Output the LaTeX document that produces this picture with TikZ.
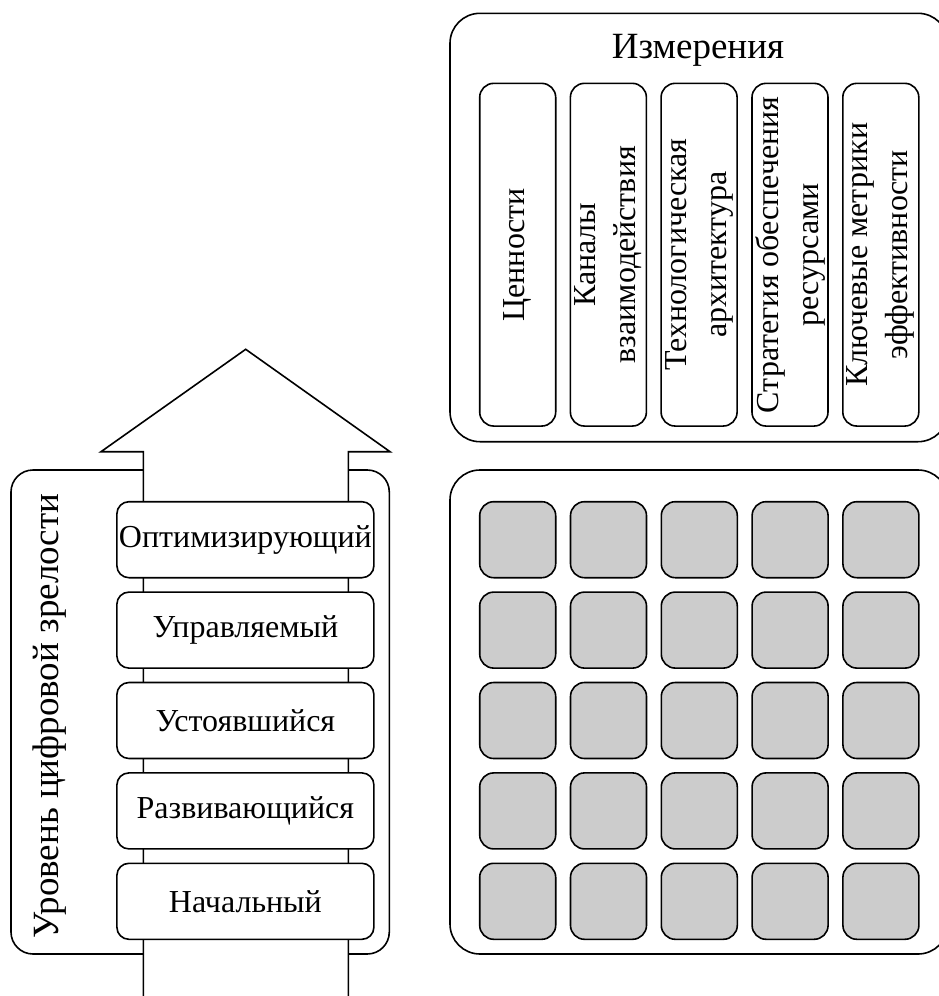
\documentclass[tikz,border=0pt]{standalone}
\usepackage{fontspec}
\setmainfont{Liberation Serif}
\begin{document}
\begin{tikzpicture}[x=1pt,y=-1pt,
  line width=1.6pt,
  container/.style={draw, rounded corners=30pt, fill=white},
  level/.style={draw, fill=white, rounded corners=12pt, minimum width=257pt, minimum height=76pt, inner sep=0pt, font=\fontsize{32}{38}\selectfont},
  dimbox/.style={draw, fill=white, rounded corners=14pt, rotate=90, minimum width=342.7pt, minimum height=76pt, inner sep=0pt, align=center, font=\fontsize{32}{40}\selectfont},
  cell/.style={draw, fill=black!20, rounded corners=14pt, minimum width=76pt, minimum height=76pt, inner sep=0pt},
  bigtext/.style={font=\fontsize{37}{44}\selectfont, inner sep=0pt}
]
\clip (0,0) rectangle (939,996);
% containers
\draw[container, rounded corners=22pt] (11,470) rectangle (389.3,954);
\draw[container] (450,13.3) rectangle (948,441.7);
\draw[container] (450,470) rectangle (948,954);
\node[bigtext, rotate=90] (lvlabel) at (50,716) {Уровень цифровой зрелости};
\node[bigtext] (dimtitle) at (698,50) {Измерения};
% arrow
\draw[fill=white, line join=miter] (143.3,1010) -- (143.3,451.7) -- (101,451.7) -- (245.7,349.3) -- (390,451.7) -- (348.3,451.7) -- (348.3,1010);
% levels
\node[level] (l5) at (245.4,539.7) {Оптимизирующий};
\node[level] (l4) at (245.4,630.1) {Управляемый};
\node[level] (l3) at (245.4,720.5) {Устоявшийся};
\node[level] (l2) at (245.4,810.9) {Развивающийся};
\node[level] (l1) at (245.4,901.3) {Начальный};
% dimensions
\node[dimbox] (d1) at (517.7,254.7) {Ценности};
\node[dimbox] (d2) at (608.4,254.7) {Каналы\\взаимодействия};
\node[dimbox] (d3) at (699.1,254.7) {Технологическая\\архитектура};
\node[dimbox] (d4) at (790.0,254.7) {Стратегия обеспечения\\ресурсами};
\node[dimbox] (d5) at (880.8,254.7) {Ключевые метрики\\эффективности};
% grid
\foreach \i in {0,...,4}{
  \foreach \j in {0,...,4}{
    \node[cell] (c\i\j) at ({517.7+90.8*\i},{539.7+90.4*\j}) {};
  }
}
\end{tikzpicture}
\end{document}
